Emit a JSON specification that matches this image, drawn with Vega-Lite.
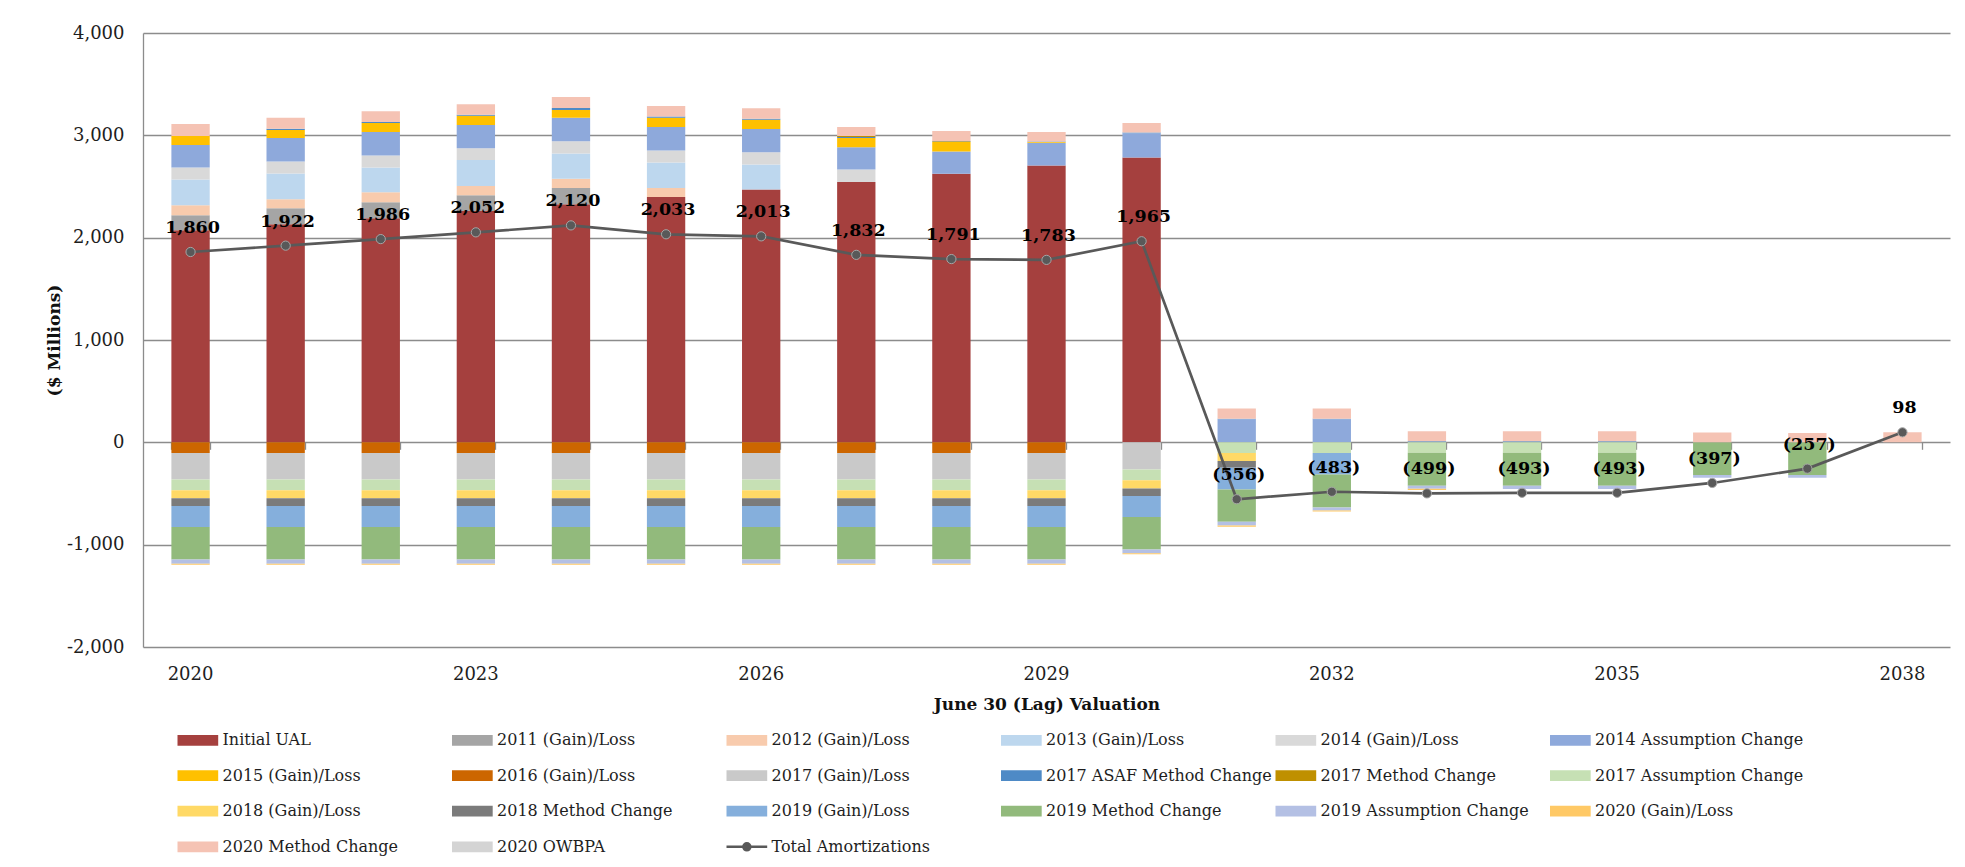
{
  "$schema": "https://vega.github.io/schema/vega-lite/v6.json",
  "autosize": {"type": "none"},
  "width": 1807,
  "height": 614,
  "padding": {"left": 143, "top": 33, "right": 15, "bottom": 220},
  "background": "white",
  "config": {
    "font": "DejaVu Serif",
    "view": {"stroke": null},
    "axis": {"labelFont": "DejaVu Serif", "titleFont": "DejaVu Serif"}
  },
  "datasets": {
    "bars": [
      {"year": 2020, "series": "Initial UAL", "k": 0, "value": 2072},
      {"year": 2020, "series": "2011 (Gain)/Loss", "k": 1, "value": 147},
      {"year": 2020, "series": "2012 (Gain)/Loss", "k": 2, "value": 98},
      {"year": 2020, "series": "2013 (Gain)/Loss", "k": 3, "value": 252},
      {"year": 2020, "series": "2014 (Gain)/Loss", "k": 4, "value": 117},
      {"year": 2020, "series": "2014 Assumption Change", "k": 5, "value": 219},
      {"year": 2020, "series": "2015 (Gain)/Loss", "k": 6, "value": 88},
      {"year": 2020, "series": "2016 (Gain)/Loss", "k": 7, "value": -105},
      {"year": 2020, "series": "2017 (Gain)/Loss", "k": 8, "value": -258},
      {"year": 2020, "series": "2017 Assumption Change", "k": 11, "value": -105},
      {"year": 2020, "series": "2018 (Gain)/Loss", "k": 12, "value": -78},
      {"year": 2020, "series": "2018 Method Change", "k": 13, "value": -75},
      {"year": 2020, "series": "2019 (Gain)/Loss", "k": 14, "value": -206},
      {"year": 2020, "series": "2019 Method Change", "k": 15, "value": -317},
      {"year": 2020, "series": "2019 Assumption Change", "k": 16, "value": -42},
      {"year": 2020, "series": "2020 (Gain)/Loss", "k": 17, "value": -10},
      {"year": 2020, "series": "2020 Method Change", "k": 18, "value": 118},

      {"year": 2021, "series": "Initial UAL", "k": 0, "value": 2130},
      {"year": 2021, "series": "2011 (Gain)/Loss", "k": 1, "value": 157},
      {"year": 2021, "series": "2012 (Gain)/Loss", "k": 2, "value": 88},
      {"year": 2021, "series": "2013 (Gain)/Loss", "k": 3, "value": 252},
      {"year": 2021, "series": "2014 (Gain)/Loss", "k": 4, "value": 118},
      {"year": 2021, "series": "2014 Assumption Change", "k": 5, "value": 228},
      {"year": 2021, "series": "2015 (Gain)/Loss", "k": 6, "value": 79},
      {"year": 2021, "series": "2016 (Gain)/Loss", "k": 7, "value": -105},
      {"year": 2021, "series": "2017 (Gain)/Loss", "k": 8, "value": -258},
      {"year": 2021, "series": "2017 ASAF Method Change", "k": 9, "value": 12},
      {"year": 2021, "series": "2017 Assumption Change", "k": 11, "value": -105},
      {"year": 2021, "series": "2018 (Gain)/Loss", "k": 12, "value": -78},
      {"year": 2021, "series": "2018 Method Change", "k": 13, "value": -75},
      {"year": 2021, "series": "2019 (Gain)/Loss", "k": 14, "value": -206},
      {"year": 2021, "series": "2019 Method Change", "k": 15, "value": -317},
      {"year": 2021, "series": "2019 Assumption Change", "k": 16, "value": -42},
      {"year": 2021, "series": "2020 (Gain)/Loss", "k": 17, "value": -10},
      {"year": 2021, "series": "2020 Method Change", "k": 18, "value": 108},

      {"year": 2022, "series": "Initial UAL", "k": 0, "value": 2189},
      {"year": 2022, "series": "2011 (Gain)/Loss", "k": 1, "value": 157},
      {"year": 2022, "series": "2012 (Gain)/Loss", "k": 2, "value": 98},
      {"year": 2022, "series": "2013 (Gain)/Loss", "k": 3, "value": 242},
      {"year": 2022, "series": "2014 (Gain)/Loss", "k": 4, "value": 118},
      {"year": 2022, "series": "2014 Assumption Change", "k": 5, "value": 228},
      {"year": 2022, "series": "2015 (Gain)/Loss", "k": 6, "value": 89},
      {"year": 2022, "series": "2016 (Gain)/Loss", "k": 7, "value": -105},
      {"year": 2022, "series": "2017 (Gain)/Loss", "k": 8, "value": -258},
      {"year": 2022, "series": "2017 ASAF Method Change", "k": 9, "value": 10},
      {"year": 2022, "series": "2017 Assumption Change", "k": 11, "value": -105},
      {"year": 2022, "series": "2018 (Gain)/Loss", "k": 12, "value": -78},
      {"year": 2022, "series": "2018 Method Change", "k": 13, "value": -75},
      {"year": 2022, "series": "2019 (Gain)/Loss", "k": 14, "value": -206},
      {"year": 2022, "series": "2019 Method Change", "k": 15, "value": -317},
      {"year": 2022, "series": "2019 Assumption Change", "k": 16, "value": -42},
      {"year": 2022, "series": "2020 (Gain)/Loss", "k": 17, "value": -10},
      {"year": 2022, "series": "2020 Method Change", "k": 18, "value": 104},

      {"year": 2023, "series": "Initial UAL", "k": 0, "value": 2261},
      {"year": 2023, "series": "2011 (Gain)/Loss", "k": 1, "value": 154},
      {"year": 2023, "series": "2012 (Gain)/Loss", "k": 2, "value": 91},
      {"year": 2023, "series": "2013 (Gain)/Loss", "k": 3, "value": 252},
      {"year": 2023, "series": "2014 (Gain)/Loss", "k": 4, "value": 115},
      {"year": 2023, "series": "2014 Assumption Change", "k": 5, "value": 228},
      {"year": 2023, "series": "2015 (Gain)/Loss", "k": 6, "value": 91},
      {"year": 2023, "series": "2016 (Gain)/Loss", "k": 7, "value": -105},
      {"year": 2023, "series": "2017 (Gain)/Loss", "k": 8, "value": -258},
      {"year": 2023, "series": "2017 ASAF Method Change", "k": 9, "value": 10},
      {"year": 2023, "series": "2017 Assumption Change", "k": 11, "value": -105},
      {"year": 2023, "series": "2018 (Gain)/Loss", "k": 12, "value": -78},
      {"year": 2023, "series": "2018 Method Change", "k": 13, "value": -75},
      {"year": 2023, "series": "2019 (Gain)/Loss", "k": 14, "value": -206},
      {"year": 2023, "series": "2019 Method Change", "k": 15, "value": -317},
      {"year": 2023, "series": "2019 Assumption Change", "k": 16, "value": -42},
      {"year": 2023, "series": "2020 (Gain)/Loss", "k": 17, "value": -10},
      {"year": 2023, "series": "2020 Method Change", "k": 18, "value": 102},

      {"year": 2024, "series": "Initial UAL", "k": 0, "value": 2326},
      {"year": 2024, "series": "2011 (Gain)/Loss", "k": 1, "value": 160},
      {"year": 2024, "series": "2012 (Gain)/Loss", "k": 2, "value": 89},
      {"year": 2024, "series": "2013 (Gain)/Loss", "k": 3, "value": 248},
      {"year": 2024, "series": "2014 (Gain)/Loss", "k": 4, "value": 118},
      {"year": 2024, "series": "2014 Assumption Change", "k": 5, "value": 232},
      {"year": 2024, "series": "2015 (Gain)/Loss", "k": 6, "value": 75},
      {"year": 2024, "series": "2016 (Gain)/Loss", "k": 7, "value": -105},
      {"year": 2024, "series": "2017 (Gain)/Loss", "k": 8, "value": -258},
      {"year": 2024, "series": "2017 ASAF Method Change", "k": 9, "value": 18},
      {"year": 2024, "series": "2017 Assumption Change", "k": 11, "value": -105},
      {"year": 2024, "series": "2018 (Gain)/Loss", "k": 12, "value": -78},
      {"year": 2024, "series": "2018 Method Change", "k": 13, "value": -75},
      {"year": 2024, "series": "2019 (Gain)/Loss", "k": 14, "value": -206},
      {"year": 2024, "series": "2019 Method Change", "k": 15, "value": -317},
      {"year": 2024, "series": "2019 Assumption Change", "k": 16, "value": -42},
      {"year": 2024, "series": "2020 (Gain)/Loss", "k": 17, "value": -10},
      {"year": 2024, "series": "2020 Method Change", "k": 18, "value": 108},

      {"year": 2025, "series": "Initial UAL", "k": 0, "value": 2398},
      {"year": 2025, "series": "2012 (Gain)/Loss", "k": 2, "value": 88},
      {"year": 2025, "series": "2013 (Gain)/Loss", "k": 3, "value": 249},
      {"year": 2025, "series": "2014 (Gain)/Loss", "k": 4, "value": 118},
      {"year": 2025, "series": "2014 Assumption Change", "k": 5, "value": 228},
      {"year": 2025, "series": "2015 (Gain)/Loss", "k": 6, "value": 92},
      {"year": 2025, "series": "2016 (Gain)/Loss", "k": 7, "value": -105},
      {"year": 2025, "series": "2017 (Gain)/Loss", "k": 8, "value": -258},
      {"year": 2025, "series": "2017 ASAF Method Change", "k": 9, "value": 10},
      {"year": 2025, "series": "2017 Assumption Change", "k": 11, "value": -105},
      {"year": 2025, "series": "2018 (Gain)/Loss", "k": 12, "value": -78},
      {"year": 2025, "series": "2018 Method Change", "k": 13, "value": -75},
      {"year": 2025, "series": "2019 (Gain)/Loss", "k": 14, "value": -206},
      {"year": 2025, "series": "2019 Method Change", "k": 15, "value": -317},
      {"year": 2025, "series": "2019 Assumption Change", "k": 16, "value": -42},
      {"year": 2025, "series": "2020 (Gain)/Loss", "k": 17, "value": -10},
      {"year": 2025, "series": "2020 Method Change", "k": 18, "value": 104},

      {"year": 2026, "series": "Initial UAL", "k": 0, "value": 2470},
      {"year": 2026, "series": "2013 (Gain)/Loss", "k": 3, "value": 246},
      {"year": 2026, "series": "2014 (Gain)/Loss", "k": 4, "value": 118},
      {"year": 2026, "series": "2014 Assumption Change", "k": 5, "value": 228},
      {"year": 2026, "series": "2015 (Gain)/Loss", "k": 6, "value": 91},
      {"year": 2026, "series": "2016 (Gain)/Loss", "k": 7, "value": -105},
      {"year": 2026, "series": "2017 (Gain)/Loss", "k": 8, "value": -258},
      {"year": 2026, "series": "2017 ASAF Method Change", "k": 9, "value": 10},
      {"year": 2026, "series": "2017 Assumption Change", "k": 11, "value": -105},
      {"year": 2026, "series": "2018 (Gain)/Loss", "k": 12, "value": -78},
      {"year": 2026, "series": "2018 Method Change", "k": 13, "value": -75},
      {"year": 2026, "series": "2019 (Gain)/Loss", "k": 14, "value": -206},
      {"year": 2026, "series": "2019 Method Change", "k": 15, "value": -317},
      {"year": 2026, "series": "2019 Assumption Change", "k": 16, "value": -42},
      {"year": 2026, "series": "2020 (Gain)/Loss", "k": 17, "value": -10},
      {"year": 2026, "series": "2020 Method Change", "k": 18, "value": 102},

      {"year": 2027, "series": "Initial UAL", "k": 0, "value": 2545},
      {"year": 2027, "series": "2014 (Gain)/Loss", "k": 4, "value": 122},
      {"year": 2027, "series": "2014 Assumption Change", "k": 5, "value": 216},
      {"year": 2027, "series": "2015 (Gain)/Loss", "k": 6, "value": 91},
      {"year": 2027, "series": "2016 (Gain)/Loss", "k": 7, "value": -105},
      {"year": 2027, "series": "2017 (Gain)/Loss", "k": 8, "value": -258},
      {"year": 2027, "series": "2017 ASAF Method Change", "k": 9, "value": 10},
      {"year": 2027, "series": "2017 Method Change", "k": 10, "value": 10},
      {"year": 2027, "series": "2017 Assumption Change", "k": 11, "value": -105},
      {"year": 2027, "series": "2018 (Gain)/Loss", "k": 12, "value": -78},
      {"year": 2027, "series": "2018 Method Change", "k": 13, "value": -75},
      {"year": 2027, "series": "2019 (Gain)/Loss", "k": 14, "value": -206},
      {"year": 2027, "series": "2019 Method Change", "k": 15, "value": -317},
      {"year": 2027, "series": "2019 Assumption Change", "k": 16, "value": -42},
      {"year": 2027, "series": "2020 (Gain)/Loss", "k": 17, "value": -10},
      {"year": 2027, "series": "2020 Method Change", "k": 18, "value": 88},

      {"year": 2028, "series": "Initial UAL", "k": 0, "value": 2624},
      {"year": 2028, "series": "2014 Assumption Change", "k": 5, "value": 219},
      {"year": 2028, "series": "2015 (Gain)/Loss", "k": 6, "value": 91},
      {"year": 2028, "series": "2016 (Gain)/Loss", "k": 7, "value": -105},
      {"year": 2028, "series": "2017 (Gain)/Loss", "k": 8, "value": -258},
      {"year": 2028, "series": "2017 ASAF Method Change", "k": 9, "value": 5},
      {"year": 2028, "series": "2017 Method Change", "k": 10, "value": 5},
      {"year": 2028, "series": "2017 Assumption Change", "k": 11, "value": -105},
      {"year": 2028, "series": "2018 (Gain)/Loss", "k": 12, "value": -78},
      {"year": 2028, "series": "2018 Method Change", "k": 13, "value": -75},
      {"year": 2028, "series": "2019 (Gain)/Loss", "k": 14, "value": -206},
      {"year": 2028, "series": "2019 Method Change", "k": 15, "value": -317},
      {"year": 2028, "series": "2019 Assumption Change", "k": 16, "value": -42},
      {"year": 2028, "series": "2020 (Gain)/Loss", "k": 17, "value": -10},
      {"year": 2028, "series": "2020 Method Change", "k": 18, "value": 98},

      {"year": 2029, "series": "Initial UAL", "k": 0, "value": 2706},
      {"year": 2029, "series": "2014 Assumption Change", "k": 5, "value": 221},
      {"year": 2029, "series": "2015 (Gain)/Loss", "k": 6, "value": 8},
      {"year": 2029, "series": "2016 (Gain)/Loss", "k": 7, "value": -105},
      {"year": 2029, "series": "2017 (Gain)/Loss", "k": 8, "value": -258},
      {"year": 2029, "series": "2017 ASAF Method Change", "k": 9, "value": 5},
      {"year": 2029, "series": "2017 Assumption Change", "k": 11, "value": -105},
      {"year": 2029, "series": "2018 (Gain)/Loss", "k": 12, "value": -78},
      {"year": 2029, "series": "2018 Method Change", "k": 13, "value": -75},
      {"year": 2029, "series": "2019 (Gain)/Loss", "k": 14, "value": -206},
      {"year": 2029, "series": "2019 Method Change", "k": 15, "value": -317},
      {"year": 2029, "series": "2019 Assumption Change", "k": 16, "value": -42},
      {"year": 2029, "series": "2020 (Gain)/Loss", "k": 17, "value": -10},
      {"year": 2029, "series": "2020 Method Change", "k": 18, "value": 92},

      {"year": 2030, "series": "Initial UAL", "k": 0, "value": 2784},
      {"year": 2030, "series": "2014 Assumption Change", "k": 5, "value": 236},
      {"year": 2030, "series": "2017 (Gain)/Loss", "k": 8, "value": -265},
      {"year": 2030, "series": "2017 ASAF Method Change", "k": 9, "value": 7},
      {"year": 2030, "series": "2017 Assumption Change", "k": 11, "value": -105},
      {"year": 2030, "series": "2018 (Gain)/Loss", "k": 12, "value": -82},
      {"year": 2030, "series": "2018 Method Change", "k": 13, "value": -72},
      {"year": 2030, "series": "2019 (Gain)/Loss", "k": 14, "value": -206},
      {"year": 2030, "series": "2019 Method Change", "k": 15, "value": -317},
      {"year": 2030, "series": "2019 Assumption Change", "k": 16, "value": -36},
      {"year": 2030, "series": "2020 (Gain)/Loss", "k": 17, "value": -10},
      {"year": 2030, "series": "2020 Method Change", "k": 18, "value": 94},

      {"year": 2031, "series": "2014 Assumption Change", "k": 5, "value": 225},
      {"year": 2031, "series": "2017 ASAF Method Change", "k": 9, "value": 5},
      {"year": 2031, "series": "2017 Assumption Change", "k": 11, "value": -105},
      {"year": 2031, "series": "2018 (Gain)/Loss", "k": 12, "value": -78},
      {"year": 2031, "series": "2018 Method Change", "k": 13, "value": -65},
      {"year": 2031, "series": "2019 (Gain)/Loss", "k": 14, "value": -212},
      {"year": 2031, "series": "2019 Method Change", "k": 15, "value": -317},
      {"year": 2031, "series": "2019 Assumption Change", "k": 16, "value": -36},
      {"year": 2031, "series": "2020 (Gain)/Loss", "k": 17, "value": -13},
      {"year": 2031, "series": "2020 Method Change", "k": 18, "value": 101},

      {"year": 2032, "series": "2014 Assumption Change", "k": 5, "value": 225},
      {"year": 2032, "series": "2017 ASAF Method Change", "k": 9, "value": 5},
      {"year": 2032, "series": "2017 Assumption Change", "k": 11, "value": -105},
      {"year": 2032, "series": "2019 (Gain)/Loss", "k": 14, "value": -209},
      {"year": 2032, "series": "2019 Method Change", "k": 15, "value": -323},
      {"year": 2032, "series": "2019 Assumption Change", "k": 16, "value": -29},
      {"year": 2032, "series": "2020 (Gain)/Loss", "k": 17, "value": -10},
      {"year": 2032, "series": "2020 Method Change", "k": 18, "value": 101},

      {"year": 2033, "series": "2017 ASAF Method Change", "k": 9, "value": 10},
      {"year": 2033, "series": "2017 Assumption Change", "k": 11, "value": -101},
      {"year": 2033, "series": "2019 Method Change", "k": 15, "value": -323},
      {"year": 2033, "series": "2019 Assumption Change", "k": 16, "value": -29},
      {"year": 2033, "series": "2020 (Gain)/Loss", "k": 17, "value": -13},
      {"year": 2033, "series": "2020 Method Change", "k": 18, "value": 98},

      {"year": 2034, "series": "2017 ASAF Method Change", "k": 9, "value": 10},
      {"year": 2034, "series": "2017 Assumption Change", "k": 11, "value": -101},
      {"year": 2034, "series": "2019 Method Change", "k": 15, "value": -323},
      {"year": 2034, "series": "2019 Assumption Change", "k": 16, "value": -33},
      {"year": 2034, "series": "2020 Method Change", "k": 18, "value": 98},

      {"year": 2035, "series": "2017 ASAF Method Change", "k": 9, "value": 10},
      {"year": 2035, "series": "2017 Assumption Change", "k": 11, "value": -101},
      {"year": 2035, "series": "2019 Method Change", "k": 15, "value": -323},
      {"year": 2035, "series": "2019 Assumption Change", "k": 16, "value": -33},
      {"year": 2035, "series": "2020 Method Change", "k": 18, "value": 98},

      {"year": 2036, "series": "2019 Method Change", "k": 15, "value": -320},
      {"year": 2036, "series": "2019 Assumption Change", "k": 16, "value": -26},
      {"year": 2036, "series": "2020 Method Change", "k": 18, "value": 95},

      {"year": 2037, "series": "2019 Method Change", "k": 15, "value": -320},
      {"year": 2037, "series": "2019 Assumption Change", "k": 16, "value": -26},
      {"year": 2037, "series": "2020 Method Change", "k": 18, "value": 90},

      {"year": 2038, "series": "2020 Method Change", "k": 18, "value": 98}
    ],
    "totals": [
      {"year": 2020, "value": 1860},
      {"year": 2021, "value": 1922},
      {"year": 2022, "value": 1986},
      {"year": 2023, "value": 2052},
      {"year": 2024, "value": 2120},
      {"year": 2025, "value": 2033},
      {"year": 2026, "value": 2013},
      {"year": 2027, "value": 1832},
      {"year": 2028, "value": 1791},
      {"year": 2029, "value": 1783},
      {"year": 2030, "value": 1965},
      {"year": 2031, "value": -556},
      {"year": 2032, "value": -483},
      {"year": 2033, "value": -499},
      {"year": 2034, "value": -493},
      {"year": 2035, "value": -493},
      {"year": 2036, "value": -397},
      {"year": 2037, "value": -257},
      {"year": 2038, "value": 98}
    ]
  },
  "resolve": {"axis": {"x": "independent"}},
  "layer": [
    {
      "data": {"name": "bars"},
      "mark": {"type": "bar"},
      "encoding": {
        "x": {
          "field": "year",
          "type": "ordinal",
          "scale": {"paddingInner": 0.597, "paddingOuter": 0.2985},
          "axis": {
            "orient": "bottom",
            "values": [2020, 2023, 2026, 2029, 2032, 2035, 2038],
            "labelAngle": 0,
            "labelFontSize": 18,
            "labelColor": "#1e1e1e",
            "labelPadding": 18,
            "ticks": false,
            "domain": false,
            "grid": false,
            "title": "June 30 (Lag) Valuation",
            "titleFontSize": 17,
            "titleFontWeight": "bold",
            "titleColor": "#111111",
            "titlePadding": 13
          }
        },
        "y": {
          "field": "value",
          "type": "quantitative",
          "stack": "zero",
          "title": "($ Millions)",
          "scale": {"domain": [-2000, 4000], "nice": false, "zero": false},
          "axis": {
            "values": [-2000, -1000, 0, 1000, 2000, 3000, 4000],
            "labelExpr": "replace(format(datum.value, ','), '\u2212', '-')",
            "labelFontSize": 18,
            "labelColor": "#1e1e1e",
            "labelPadding": 19,
            "ticks": false,
            "domain": true,
            "domainColor": "#8c8c8c",
            "domainWidth": 1.3,
            "grid": true,
            "gridColor": "#8c8c8c",
            "gridWidth": 1.3,
            "titleFontSize": 17,
            "titleFontWeight": "bold",
            "titleColor": "#111111",
            "titlePadding": 2.5
          }
        },
        "color": {
          "field": "series",
          "type": "nominal",
          "scale": {
            "domain": [
              "Initial UAL", "2011 (Gain)/Loss", "2012 (Gain)/Loss", "2013 (Gain)/Loss", "2014 (Gain)/Loss", "2014 Assumption Change",
              "2015 (Gain)/Loss", "2016 (Gain)/Loss", "2017 (Gain)/Loss", "2017 ASAF Method Change", "2017 Method Change", "2017 Assumption Change",
              "2018 (Gain)/Loss", "2018 Method Change", "2019 (Gain)/Loss", "2019 Method Change", "2019 Assumption Change", "2020 (Gain)/Loss",
              "2020 Method Change", "2020 OWBPA", "Total Amortizations"
            ],
            "range": [
              "#a5403e", "#a5a5a5", "#f8cbad", "#bdd7ee", "#d9d9d9", "#8ea9db",
              "#ffc000", "#cc6600", "#c9c9c9", "#4e8ac6", "#bf9000", "#c6e0b4",
              "#ffd966", "#7b7b7b", "#85afdc", "#92ba7c", "#b4c0e4", "#ffc966",
              "#f5c3b4", "#d4d4d4", "#595959"
            ]
          },
          "legend": {
            "orient": "none",
            "legendX": 34.5,
            "legendY": 699,
            "direction": "horizontal",
            "columns": 6,
            "title": null,
            "padding": 0,
            "gridAlign": "all",
            "columnPadding": -1.5,
            "rowPadding": 13.6,
            "labelFont": "DejaVu Serif",
            "labelFontSize": 16,
            "labelColor": "#1e1e1e",
            "labelLimit": 400,
            "symbolSize": 100,
            "symbolStrokeWidth": 2.5,
            "symbolOffset": 12.35,
            "labelOffset": 16.7,
            "encode": {
              "symbols": {
                "update": {
                  "shape": {"signal": "datum.value === 'Total Amortizations' ? 'M-4.07,0H4.07M-0.7,0A0.7,0.7,0,1,1,0.7,0A0.7,0.7,0,1,1,-0.7,0Z' : 'M-4.07,-1.07H4.07V1.07H-4.07Z'"},
                  "stroke": {"signal": "datum.value === 'Total Amortizations' ? '#595959' : 'transparent'"},
                  "opacity": {"value": 1}
                }
              }
            }
          }
        },
        "order": {"field": "k", "type": "quantitative"}
      }
    },
    {
      "data": {"name": "totals"},
      "mark": {
        "type": "line",
        "color": "#595959",
        "strokeWidth": 2.7,
        "point": {"filled": true, "size": 85, "color": "#595959", "stroke": "#a6a6a6", "strokeWidth": 1}
      },
      "encoding": {
        "x": {
          "field": "year",
          "type": "ordinal",
          "axis": {
            "orient": "bottom",
            "offset": -204.7,
            "labels": false,
            "ticks": true,
            "tickBand": "extent",
            "tickSize": 7,
            "tickColor": "#8c8c8c",
            "tickWidth": 1.3,
            "domain": false,
            "grid": false,
            "title": null
          }
        },
        "y": {"field": "value", "type": "quantitative", "title": "($ Millions)"}
      }
    },
    {
      "data": {"name": "totals"},
      "mark": {
        "type": "text",
        "font": "DejaVu Serif",
        "fontWeight": "bold",
        "fontSize": 17.5,
        "baseline": "alphabetic",
        "dy": -19,
        "dx": 2,
        "color": "#000000"
      },
      "encoding": {
        "x": {"field": "year", "type": "ordinal", "axis": null},
        "y": {"field": "value", "type": "quantitative", "title": "($ Millions)"},
        "text": {"field": "value", "type": "quantitative", "format": "(,.0f"}
      }
    }
  ]
}
